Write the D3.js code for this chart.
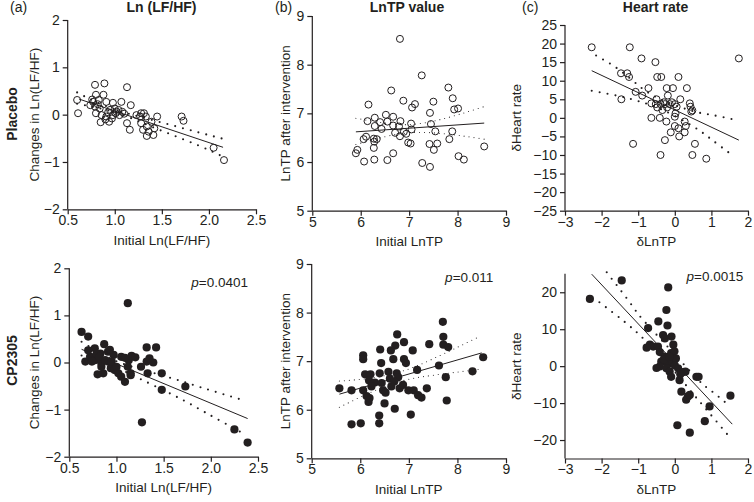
<!DOCTYPE html>
<html><head><meta charset="utf-8">
<script src="https://cdn.jsdelivr.net/npm/d3@7"></script>
<style>
body{margin:0;background:#fff;}
svg text{font-family:"Liberation Sans",Arial,Helvetica,sans-serif;fill:#231f20;}
</style></head>
<body><svg id="c" width="754" height="502"></svg>
<script>
// ---------- DATA ----------
const rowLabels = ["Placebo", "CP2305"];
const panelLetters = ["(a)", "(b)", "(c)"];
const columnTitles = ["Ln (LF/HF)", "LnTP value", "Heart rate"];
const xLabels = ["Initial Ln(LF/HF)", "Initial LnTP", "\u03B4LnTP"];
const yLabels = ["Changes in Ln(LF/HF)", "LnTP after intervention", "\u03B4Heart rate"];
const pValues = ["0.0401", "0.011", "0.0015"];

const xTicksLF = [0.5, 1.0, 1.5, 2.0, 2.5];
const yTicksLF = [-2, -1, 0, 1, 2];
const xTicksTP = [5, 6, 7, 8, 9];
const yTicksTP = [5, 6, 7, 8, 9];
const xTicksHR = [-3, -2, -1, 0, 1, 2];
const yTicksHRtop = [-25, -20, -15, -10, -5, 0, 5, 10, 15, 20, 25];
const yTicksHRbottom = [-20, -10, 0, 10, 20];

// Placebo (open circles)
const placeboLF = [[0.60,0.31],[0.61,0.03],[0.79,0.63],[0.89,0.66],[1.13,0.58],[0.80,0.42],[0.88,0.42],[0.77,0.27],[0.83,0.31],[0.91,0.27],[0.98,0.25],[1.07,0.27],[1.17,0.20],[0.74,0.20],[0.79,0.17],[0.84,0.13],[0.95,0.10],[1.02,0.06],[1.08,0.06],[0.80,0.03],[0.86,-0.01],[0.91,-0.04],[0.98,-0.01],[1.05,-0.01],[0.90,-0.10],[0.94,-0.15],[0.85,-0.16],[1.13,-0.18],[1.16,-0.32],[1.23,-0.01],[1.28,0.03],[1.31,0.03],[1.27,-0.04],[1.33,-0.04],[1.45,-0.04],[1.28,-0.18],[1.34,-0.25],[1.30,-0.32],[1.36,-0.36],[1.34,-0.45],[1.42,-0.29],[1.41,-0.43],[1.39,-0.15],[1.71,-0.04],[1.73,-0.13],[2.05,-0.70],[2.16,-0.96],[0.76,0.32],[1.00,0.13],[1.01,0.03],[0.82,0.22],[0.93,0.05],[1.04,0.10],[0.97,-0.08],[1.10,0.02]];
const placeboTP = [[6.81,8.53],[7.26,7.78],[6.63,7.47],[7.81,7.53],[7.90,7.31],[6.88,7.26],[7.12,7.19],[7.06,7.12],[7.50,7.24],[7.93,7.08],[8.01,7.10],[6.16,7.18],[7.43,7.01],[6.14,6.84],[6.29,6.91],[6.52,6.97],[6.67,6.93],[6.40,6.82],[6.55,6.83],[6.82,6.84],[6.29,6.74],[6.43,6.68],[6.67,6.75],[6.79,6.73],[7.04,6.79],[7.45,6.78],[6.71,6.60],[6.81,6.53],[6.89,6.62],[6.94,6.58],[7.05,6.67],[7.54,6.63],[7.89,6.63],[6.11,6.52],[6.06,6.47],[6.27,6.48],[6.33,6.47],[6.28,6.42],[6.98,6.40],[7.03,6.38],[7.42,6.37],[7.58,6.38],[7.51,6.25],[7.83,6.47],[6.27,6.29],[5.93,6.25],[5.90,6.18],[6.67,6.18],[6.07,6.01],[6.28,6.05],[6.55,6.04],[7.27,5.98],[7.43,5.90],[8.02,6.12],[8.13,6.05],[8.55,6.32]];
const placeboHR = [[-2.27,19],[-1.23,19],[-0.91,16],[-0.53,15],[1.75,16],[-1.47,12],[-1.30,12],[-1.25,11],[-0.48,11],[-0.37,11],[0.10,11],[-1.07,7],[-0.72,8],[-0.22,8],[-0.05,8],[0.33,8],[-0.89,6],[-1.46,5],[-0.50,5],[0.15,5],[-0.19,6],[-0.64,3.9],[-0.52,3.7],[-0.39,3.7],[-0.27,3.7],[-0.14,3.7],[0.00,3.7],[-0.48,2.8],[-0.34,2.1],[-0.21,2.8],[0.41,3.9],[0.43,3.0],[0.45,1.7],[0.48,2.0],[0.02,1.2],[0.00,0.3],[-0.64,0],[-0.41,0],[-0.23,-1],[0.00,-2.2],[0.10,-2.8],[0.30,-2.2],[0.27,-1],[-0.11,-3.9],[0.27,-3.9],[0.12,-5],[-0.27,-6],[0.55,-7],[-1.14,-7],[-0.39,-10],[0.48,-10],[0.86,-11],[-0.30,4.2],[-0.08,4.2],[0.05,3.0]];

// CP2305 (filled circles)
const cp2305LF = [[0.63,0.65],[0.70,0.55],[1.12,1.26],[1.32,0.32],[1.42,0.32],[1.27,-1.27],[1.73,-0.51],[1.48,-0.58],[1.48,-0.23],[2.25,-1.42],[2.39,-1.70],[0.67,0.02],[0.72,0.12],[0.77,0.30],[0.87,0.39],[0.91,0.23],[0.97,0.16],[0.83,0.19],[0.70,0.26],[0.77,0.05],[0.84,-0.02],[0.91,0.02],[0.86,-0.23],[0.84,-0.09],[0.94,-0.12],[0.98,-0.16],[1.02,-0.23],[1.05,-0.30],[1.09,-0.41],[1.05,0.12],[1.13,0.05],[1.16,0.14],[1.20,0.11],[1.12,-0.09],[1.15,-0.23],[1.26,-0.09],[1.32,0.02],[1.35,0.09],[1.39,0.00],[1.33,-0.23],[0.79,0.19],[0.82,0.12],[0.88,0.05],[0.93,0.27],[0.95,0.02],[1.00,-0.09],[0.80,-0.25],[0.74,0.02],[1.09,0.10],[1.15,-0.27]];
const cp2305TP = [[5.57,6.44],[5.82,6.40],[6.06,6.40],[5.82,5.70],[6.01,5.72],[6.39,5.72],[6.39,5.88],[7.04,5.90],[6.71,6.02],[6.50,6.13],[6.17,6.16],[6.19,6.24],[6.06,7.12],[6.06,7.04],[6.41,7.24],[6.76,7.55],[6.90,7.39],[6.72,7.32],[6.63,7.22],[7.08,7.22],[6.68,7.04],[6.90,7.04],[6.94,6.96],[6.43,6.96],[7.17,6.82],[7.42,7.35],[7.70,7.81],[7.71,7.50],[7.71,7.34],[7.81,7.29],[7.62,6.91],[7.76,6.67],[7.78,6.19],[8.31,6.79],[8.53,7.08],[6.10,6.73],[6.21,6.73],[6.40,6.75],[6.58,6.78],[6.75,6.75],[6.18,6.60],[6.30,6.56],[6.44,6.55],[6.61,6.64],[6.78,6.67],[6.23,6.48],[6.47,6.40],[6.64,6.48],[6.81,6.44],[6.88,6.51],[6.99,6.40],[7.10,6.40],[7.19,6.30],[7.26,6.25],[7.37,6.44],[6.13,6.28],[6.52,6.35],[6.70,6.58]];
const cp2305HR = [[-2.32,18.2],[-1.45,23.2],[-0.18,21.3],[-0.23,15.2],[-0.20,11.0],[-0.45,12.1],[-0.73,10.3],[-0.32,8.4],[-0.27,7.5],[-0.09,8.0],[-0.04,5.8],[-0.68,5.8],[-0.59,5.3],[-0.46,5.3],[-0.77,5.0],[-0.41,3.8],[-0.28,2.6],[-0.10,3.5],[-0.01,4.0],[-0.37,1.2],[-0.19,0.8],[-0.06,1.2],[0.03,2.1],[-0.41,-0.1],[-0.23,-0.6],[-0.14,-1.5],[0.09,-0.6],[0.23,-1.6],[0.29,-1.5],[-0.10,-2.9],[0.13,-3.8],[0.59,-2.9],[0.65,-2.9],[0.18,-6.9],[0.36,-8.2],[0.31,-9.1],[0.41,-7.8],[0.95,-10.9],[0.82,-14.9],[0.07,-16.0],[0.41,-18.0],[1.52,-8.0],[-0.30,1.8],[-0.15,2.5],[0.00,0.2],[-0.50,-0.5],[0.15,-2.2]];

// Regression lines (end points) and 95% confidence bands
const fitPlaceboLF = [[0.62,0.33],[2.15,-0.69]];
const upperPlaceboLF = [[0.6,0.47],[0.8,0.27],[1.05,0.08],[1.3,-0.06],[1.6,-0.22],[1.9,-0.38],[2.15,-0.51]];
const lowerPlaceboLF = [[0.6,0.23],[0.8,0.15],[1.05,0.02],[1.3,-0.18],[1.6,-0.42],[1.9,-0.66],[2.12,-0.86]];
const fitPlaceboTP = [[5.9,6.62],[8.55,6.80]];
const upperPlaceboTP = [[5.9,6.90],[6.5,6.80],[7.0,6.77],[7.5,6.84],[8.0,6.97],[8.55,7.14]];
const lowerPlaceboTP = [[5.9,6.36],[6.5,6.52],[7.0,6.60],[7.5,6.60],[8.0,6.55],[8.55,6.47]];
const fitPlaceboHR = [[-2.27,12.7],[1.75,-6.0]];
const upperPlaceboHR = [[-2.15,16.8],[-1.5,12.8],[-0.9,8.0],[-0.3,4.6],[0.5,1.8],[1.0,0.8],[1.55,-0.3]];
const lowerPlaceboHR = [[-2.27,7.3],[-1.5,5.8],[-0.9,4.2],[-0.3,2.0],[0.5,-2.3],[1.0,-5.8],[1.59,-10.2]];
const fitCpLF = [[0.63,0.28],[2.39,-1.19]];
const upperCpLF = [[0.63,0.44],[0.9,0.12],[1.15,-0.08],[1.53,-0.30],[1.9,-0.53],[2.31,-0.78]];
const lowerCpLF = [[0.63,0.15],[0.9,-0.02],[1.15,-0.25],[1.62,-0.71],[1.95,-1.07],[2.32,-1.48]];
const fitCpTP = [[5.57,6.32],[8.50,7.17]];
const upperCpTP = [[5.57,6.59],[6.2,6.65],[6.85,6.79],[7.5,7.05],[8.4,7.48]];
const lowerCpTP = [[5.57,6.05],[6.2,6.35],[6.85,6.59],[7.5,6.71],[8.43,6.83]];
const fitCpHR = [[-2.27,24.9],[1.57,-15.7]];
const upperCpHR = [[-1.86,25.4],[-1.18,16.6],[-0.91,13.0],[-0.2,5.3],[0.64,-3.7],[1.0,-6.7],[1.52,-11.0]];
const lowerCpHR = [[-2.06,17.3],[-1.36,11.9],[-0.82,7.1],[-0.2,0.8],[0.4,-6.3],[0.91,-12.3],[1.54,-19.7]];

// ---------- LAYOUT ----------
const ink = "#231f20";
const svg = d3.select("#c");
const panels = [
  {row:0,col:0,pts:placeboLF,fit:fitPlaceboLF,up:upperPlaceboLF,lo:lowerPlaceboLF,xd:[0.5,2.5],yd:[-2,2],xt:xTicksLF,yt:yTicksLF,xf:d3.format(".1f"),yf:d3.format("d"),xr:[67.7,256],yr:[209.3,20],dots:"thick"},
  {row:0,col:1,pts:placeboTP,fit:fitPlaceboTP,up:upperPlaceboTP,lo:lowerPlaceboTP,xd:[5,9],yd:[5,9],xt:xTicksTP,yt:yTicksTP,xf:d3.format("d"),yf:d3.format("d"),xr:[312.3,506],yr:[210.7,16],dots:"fine"},
  {row:0,col:2,pts:placeboHR,fit:fitPlaceboHR,up:upperPlaceboHR,lo:lowerPlaceboHR,xd:[-3,2],yd:[-25,25],xt:xTicksHR,yt:yTicksHRtop,xf:d3.format("d"),yf:d3.format("d"),xr:[565,748],yr:[210.7,25],dots:"thick"},
  {row:1,col:0,pts:cp2305LF,fit:fitCpLF,up:upperCpLF,lo:lowerCpLF,xd:[0.5,2.5],yd:[-2,2],xt:xTicksLF,yt:yTicksLF,xf:d3.format(".1f"),yf:d3.format("d"),xr:[69.3,258],yr:[456.7,268.3],dots:"thick"},
  {row:1,col:1,pts:cp2305TP,fit:fitCpTP,up:upperCpTP,lo:lowerCpTP,xd:[5,9],yd:[5,9],xt:xTicksTP,yt:yTicksTP,xf:d3.format("d"),yf:d3.format("d"),xr:[311.7,506],yr:[458.3,264],dots:"fine"},
  {row:1,col:2,pts:cp2305HR,fit:fitCpHR,up:upperCpHR,lo:lowerCpHR,xd:[-3,2],yd:[-25,25],xt:xTicksHR,yt:yTicksHRbottom,xf:d3.format("d"),yf:d3.format("d"),xr:[565,748],yr:[458.5,273.8],dots:"thick"}
];
const ylabelX = [39, 290, 520.5];
const pRight = [248, 493.3, 743.3];
const pBase = [287.3, 282.3, 281];

panels.forEach(p => {
  const x = d3.scaleLinear().domain(p.xd).range(p.xr);
  const y = d3.scaleLinear().domain(p.yd).range(p.yr);
  const g = svg.append("g");

  // axes
  const ax = g.append("g").attr("transform", `translate(0,${p.yr[0]})`)
    .call(d3.axisBottom(x).tickValues(p.xt).tickFormat(p.xf).tickSize(5).tickSizeOuter(0).tickPadding(1));
  const ay = g.append("g").attr("transform", `translate(${p.xr[0]},0)`)
    .call(d3.axisLeft(y).tickValues(p.yt).tickFormat(p.yf).tickSize(5).tickSizeOuter(0).tickPadding(3));
  [ax, ay].forEach(a => {
    a.selectAll("path,line").attr("stroke", ink).attr("stroke-width", 1.2);
    a.selectAll("text").attr("font-size", 14).attr("fill", ink)
      .style("font-family", '"Liberation Sans",Arial,sans-serif');
  });
  // extend y axis line to corner
  ay.select("path.domain").attr("d", `M0,${p.yr[0]}V${p.yr[1]}`);

  // confidence bands
  const line = d3.line().x(d => x(d[0])).y(d => y(d[1])).curve(d3.curveNatural);
  const thick = p.dots === "thick";
  [p.up, p.lo].forEach(band => {
    g.append("path").attr("d", line(band)).attr("fill", "none")
      .attr("stroke", ink)
      .attr("stroke-width", thick ? 2.1 : 1.1)
      .attr("stroke-linecap", "round")
      .attr("stroke-dasharray", thick ? "0 8" : "0 5");
  });

  // regression line
  g.append("path").attr("d", d3.line().x(d => x(d[0])).y(d => y(d[1]))(p.fit))
    .attr("fill", "none").attr("stroke", ink).attr("stroke-width", 1);

  // points
  const filled = p.row === 1;
  g.selectAll("circle").data(p.pts).join("circle")
    .attr("cx", d => x(d[0])).attr("cy", d => y(d[1]))
    .attr("r", filled ? 4.1 : 3.5)
    .attr("fill", filled ? ink : "none")
    .attr("stroke", ink).attr("stroke-width", filled ? 0 : 1);

  // axis labels
  g.append("text").attr("x", (p.xr[0] + p.xr[1]) / 2).attr("y", p.yr[0] + 35.5)
    .attr("text-anchor", "middle").attr("font-size", 13.5).text(xLabels[p.col]);
  const cy = (p.yr[0] + p.yr[1]) / 2;
  g.append("text").attr("transform", `translate(${ylabelX[p.col] - (p.col===0?0:0)},${cy}) rotate(-90)`)
    .attr("text-anchor", "middle").attr("font-size", 13.5).text(yLabels[p.col]);

  if (p.row === 1) {
    const t = g.append("text").attr("x", pRight[p.col]).attr("y", pBase[p.col])
      .attr("text-anchor", "end").attr("font-size", 13.5);
    t.append("tspan").attr("font-style", "italic").text("p");
    t.append("tspan").text("=" + pValues[p.col]);
  }
});

// column titles and letters
const titleCx = [161.5, 407, 655.5];
const letterX = [10, 275, 522];
columnTitles.forEach((t, i) => {
  svg.append("text").attr("x", titleCx[i]).attr("y", 11.5).attr("text-anchor", "middle")
    .attr("font-size", 14).attr("font-weight", "bold").text(t);
  svg.append("text").attr("x", letterX[i]).attr("y", 11.5).attr("font-size", 14).text(panelLetters[i]);
});
// row labels
const rowCy = [114, 360.5];
rowLabels.forEach((t, i) => {
  svg.append("text").attr("transform", `translate(16.5,${rowCy[i]}) rotate(-90)`)
    .attr("text-anchor", "middle").attr("font-size", 14).attr("font-weight", "bold").text(t);
});
</script></body></html>
